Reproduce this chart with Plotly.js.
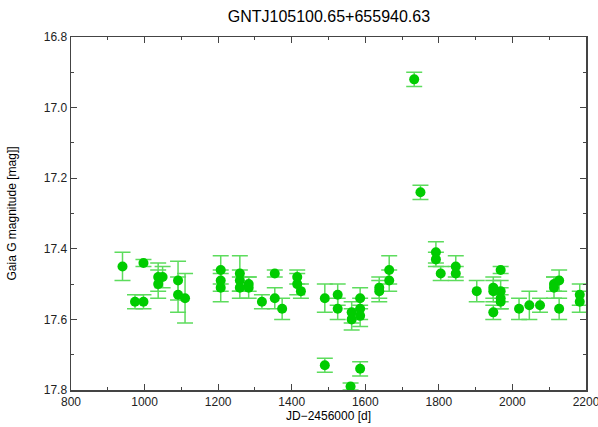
<!DOCTYPE html>
<html>
<head>
<meta charset="utf-8">
<script src="https://cdn.plot.ly/plotly-3.0.1.min.js"></script>
<style>html,body{margin:0;padding:0;background:#fff;}#chart{width:598px;height:427px;}</style>
</head>
<body>
<div id="chart"></div>
<script>
var jd = [940, 974, 997, 997, 1037, 1049, 1037, 1091, 1091, 1110,
          1207, 1207, 1207, 1259, 1259, 1259, 1283, 1283, 1319, 1354,
          1354, 1374, 1415, 1415, 1425, 1490, 1490, 1525, 1525, 1563,
          1563, 1560, 1586, 1586, 1586, 1586, 1638, 1638, 1665, 1665,
          1733, 1750, 1792, 1792, 1805, 1846, 1846, 1903, 1948, 1948,
          1948, 1968, 1968, 1968, 1968, 2018, 2046, 2075, 2113, 2113,
          2127, 2127, 2183, 2183];
var mag = [17.45, 17.55, 17.55, 17.44, 17.48, 17.48, 17.50, 17.49, 17.53, 17.54,
           17.46, 17.49, 17.51, 17.47, 17.49, 17.51, 17.50, 17.51, 17.55, 17.47,
           17.54, 17.57, 17.48, 17.50, 17.52, 17.54, 17.73, 17.53, 17.57, 17.58,
           17.60, 17.79, 17.54, 17.57, 17.59, 17.74, 17.51, 17.52, 17.46, 17.49,
           16.92, 17.24, 17.41, 17.43, 17.47, 17.45, 17.47, 17.52, 17.51, 17.52,
           17.58, 17.46, 17.52, 17.54, 17.55, 17.57, 17.56, 17.56, 17.50, 17.51,
           17.49, 17.57, 17.53, 17.55];
var err = [0.04, 0.02, 0.02, 0.01, 0.04, 0.03, 0.04, 0.055, 0.05, 0.07,
           0.04, 0.03, 0.04, 0.05, 0.03, 0.03, 0.02, 0.03, 0.02, 0.01,
           0.03, 0.03, 0.02, 0.03, 0.02, 0.04, 0.02, 0.03, 0.03, 0.03,
           0.03, 0.01, 0.03, 0.03, 0.03, 0.02, 0.03, 0.03, 0.04, 0.03,
           0.02, 0.02, 0.03, 0.02, 0.02, 0.03, 0.02, 0.03, 0.03, 0.03,
           0.02, 0.01, 0.03, 0.03, 0.02, 0.03, 0.04, 0.02, 0.02, 0.03,
           0.03, 0.03, 0.03, 0.03];

var titleText = 'GNTJ105100.65+655940.63';
var xTitle = 'JD\u22122456000 [d]';
var yTitle = 'Gaia G magnitude [mag]]';

var trace = {
  x: jd, y: mag, type: 'scatter', mode: 'markers',
  marker: {color: '#00cc00', size: 10, symbol: 'circle', line: {width: 0}},
  error_y: {type: 'data', array: err, visible: true, color: '#5ddc5d', thickness: 1.5, width: 8},
  hoverinfo: 'none'
};

var axisCommon = {
  showgrid: false, zeroline: false, showline: true, linecolor: '#444', linewidth: 1.5,
  mirror: 'ticks', ticks: 'inside', ticklen: 6, tickwidth: 1.2, tickcolor: '#444',
  ticklabeloverflow: 'allow',
  tickfont: {family: 'Liberation Sans, Arial, sans-serif', size: 12, color: '#222'}
};

var layout = {
  width: 598, height: 427,
  margin: {l: 71, r: 12, t: 37, b: 37},
  paper_bgcolor: '#fff', plot_bgcolor: '#fff',
  showlegend: false,
  title: {text: titleText, x: 0.55, xanchor: 'center', y: 0.975, yanchor: 'top',
          font: {family: 'Liberation Sans, Arial, sans-serif', size: 16, color: '#000'}},
  xaxis: Object.assign({}, axisCommon, {
    range: [800, 2200], dtick: 200, tick0: 800,
    minor: {dtick: 100, ticks: 'inside', ticklen: 3, tickcolor: '#444', tickwidth: 1},
    title: {text: xTitle, standoff: 2, font: {family: 'Liberation Sans, Arial, sans-serif', size: 12, color: '#000'}}
  }),
  yaxis: Object.assign({}, axisCommon, {
    range: [17.8, 16.8], dtick: 0.2, tick0: 16.8, tickformat: '.1f',
    minor: {dtick: 0.1, ticks: 'inside', ticklen: 3, tickcolor: '#444', tickwidth: 1},
    title: {text: yTitle, standoff: 24, font: {family: 'Liberation Sans, Arial, sans-serif', size: 12, color: '#000'}}
  })
};

Plotly.newPlot('chart', [trace], layout, {staticPlot: true, displayModeBar: false});
</script>
</body>
</html>
